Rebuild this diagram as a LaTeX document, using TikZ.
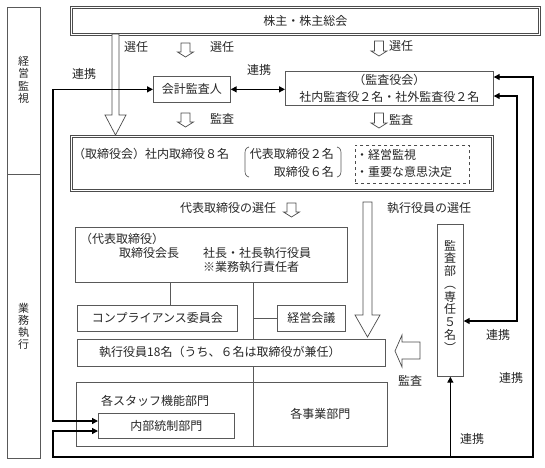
\documentclass[tikz,border=0pt]{standalone}
\usepackage{fontspec}
\setmainfont{Noto Sans CJK JP}
\usetikzlibrary{arrows.meta,calc}
\newcommand\jfont{\fontsize{12}{15}\selectfont}
\tikzset{
  box/.style={draw=black!65, line width=0.7pt, rectangle, inner sep=0pt, anchor=north west, font=\jfont, text=black!85},
  dbox/.style={box, draw=black!70, double=white, double distance=1.4pt, line width=0.8pt},
  dashbox/.style={box, dashed, draw=black!70},
  conn/.style={line width=1.3pt, black},
  biarrow/.style={conn, {Triangle[length=6pt,width=6pt]}-{Triangle[length=6pt,width=6pt]}},
  onearrow/.style={conn, -{Triangle[length=6pt,width=6pt]}},
  thin/.style={draw=black!65, line width=0.7pt},
  hollow/.style={draw=black!70, line width=0.7pt, fill=white, line join=miter},
  lbl/.style={font=\jfont, text=black!85, inner sep=0pt},
  vlbl/.style={inner sep=0pt, text=black!85, align=center}
}
\newcommand\hollowdown[6]{% x, ytop, ytip, shaft half, head half, head length
  \draw[hollow] ({#1-#4},#2) -- ({#1-#4},{#3-#6}) -- ({#1-#5},{#3-#6}) -- (#1,#3)
    -- ({#1+#5},{#3-#6}) -- ({#1+#4},{#3-#6}) -- ({#1+#4},#2) -- cycle;}
\begin{document}
\begin{tikzpicture}[x=1pt,y=-1pt]
\useasboundingbox (0,0) rectangle (545,467);

% left column
\node[box, minimum width=33pt, minimum height=167pt] (lefta) at (7,7) {};
\node[box, minimum width=33pt, minimum height=284pt] (leftb) at (7,174) {};
\node[vlbl, font=\fontsize{11}{12.5}\selectfont] (ta) at (23.5,80) {経\\営\\監\\視};
\node[vlbl, font=\fontsize{11}{12}\selectfont] (tb) at (23.5,326) {業\\務\\執\\行};

% boxes
\node[dbox, minimum width=468pt, minimum height=27pt] (sh) at (71,7) {株主・株主総会};
\node[box, minimum width=77pt, minimum height=26pt] (ca) at (153,76) {会計監査人};
\node[box, minimum width=208pt, minimum height=34pt, align=center, font=\fontsize{12}{17}\selectfont] (ks) at (285,71) {（監査役会）\\社内監査役２名・社外監査役２名};
\node[dbox, minimum width=421pt, minimum height=54pt] (bd) at (71,136) {};
\node[dashbox, minimum width=114pt, minimum height=38pt] (ds) at (355,145) {};
\node[box, minimum width=272pt, minimum height=55pt] (rep) at (75,227) {};
\node[box, minimum width=160pt, minimum height=26pt] (cp) at (77,305) {コンプライアンス委員会};
\node[box, minimum width=68pt, minimum height=26pt] (mg) at (277,305) {経営会議};
\node[box, minimum width=308pt, minimum height=27pt] (ex) at (77,339) {};
\node[box, minimum width=177pt, minimum height=64pt] (st) at (76,382) {};
\node[box, minimum width=134pt, minimum height=64pt] (bz) at (253,382) {各事業部門};
\node[box, minimum width=136pt, minimum height=25pt] (ic) at (98,413) {内部統制部門};
\node[box, minimum width=26pt, minimum height=152pt] (au) at (437,224) {};
\node[vlbl, font=\fontsize{12}{12.75}\selectfont] (aut) at (450,296) {監\\査\\部\\︵\\専\\任\\５\\名\\︶};

% board texts
\node[lbl, anchor=west] (bd1) at (73,154) {（取締役会）社内取締役８名};
\node[lbl, anchor=east] (bd2) at (334,154) {代表取締役２名};
\node[lbl, anchor=east] (bd3) at (334,172) {取締役６名};
\draw[thin] (249,147) .. controls (245.5,148) and (245,150) .. (245,154) -- (245,170) .. controls (245,174) and (245.5,176) .. (249,177);
\draw[thin] (337,147) .. controls (340.5,148) and (341,150) .. (341,154) -- (341,170) .. controls (341,174) and (340.5,176) .. (337,177);
\node[lbl, anchor=west] (ds1) at (356,155) {・経営監視};
\node[lbl, anchor=west] (ds2) at (356,172) {・重要な意思決定};

% representative box texts
\node[lbl, anchor=west] (r1) at (80,239) {（代表取締役）};
\node[lbl, anchor=west] (r2) at (119,253) {取締役会長};
\node[lbl, anchor=west] (r3) at (203,253) {社長・社長執行役員};
\node[lbl, anchor=west] (r4) at (203,267) {※業務執行責任者};

\node[lbl, anchor=west] (ext) at (99,352) {執行役員18名（うち、６名は取締役が兼任）};
\node[lbl, anchor=west] (stt) at (101,401) {各スタッフ機能部門};

% thin org lines
\coordinate (cx) at (170,0);
\draw[thin] (rep.south -| cx) -- (cp.north -| cx);
\draw[thin] (rep.south -| bz.west) -- (ex.north -| bz.west);
\draw[thin] (mg.west -| bz.west) -- (mg.west);
\draw[thin] (ex.south -| bz.west) -- (bz.north west);

% hollow arrows
\hollowdown{115.5}{34}{135}{3.5}{10.5}{20}
\hollowdown{367.5}{202}{337}{4.5}{12.5}{22}
\hollowdown{185.5}{43}{57}{4.5}{8}{5}
\hollowdown{379}{41}{56}{4.5}{8}{5}
\hollowdown{185.5}{113}{127}{4.5}{8}{5}
\hollowdown{379}{113}{128}{4.5}{8}{5}
\hollowdown{291.5}{203}{217}{4.5}{8}{5}
\draw[hollow] (395,351) -- (402,335) -- (402,342) -- (420,342) -- (420,359) -- (402,359) -- (402,367) -- cycle;

% labels
\node[lbl] (l1) at (136,47) {選任};
\node[lbl] (l2) at (222,47) {選任};
\node[lbl] (l3) at (401,46) {選任};
\node[lbl] (l4) at (84,74) {連携};
\node[lbl] (l5) at (259,70) {連携};
\node[lbl] (l6) at (222,119) {監査};
\node[lbl] (l7) at (401,120) {監査};
\node[lbl] (l8) at (228,208) {代表取締役の選任};
\node[lbl] (l9) at (429,208) {執行役員の選任};
\node[lbl] (l10) at (498,335) {連携};
\node[lbl] (l11) at (511,378) {連携};
\node[lbl] (l12) at (472,439) {連携};
\node[lbl] (l13) at (410,381) {監査};

% connectors
\coordinate (L1) at (53,421);
\coordinate (L2b) at (53,431);
\coordinate (L2a) at (53,457);
\coordinate (R2b) at (533,457);
\coordinate (R2a) at (533,77);
\coordinate (R1a) at (517,96);
\coordinate (R1b) at (517,321);
\draw[biarrow] (ca.west) -| (L1) -- (ic.west |- L1);
\draw[biarrow] (ca.east) -- (ca.east -| ks.west);
\draw[biarrow] (ks.east |- R1a) -- (R1a) -- (R1b) -- (au.east |- R1b);
\draw[biarrow] (ks.east |- R2a) -- (R2a) -- (R2b) -- (L2a) -- (L2b) -- (ic.west |- L2b);
\draw[onearrow] (au.south |- R2b) -- (au.south);
\end{tikzpicture}
\end{document}
